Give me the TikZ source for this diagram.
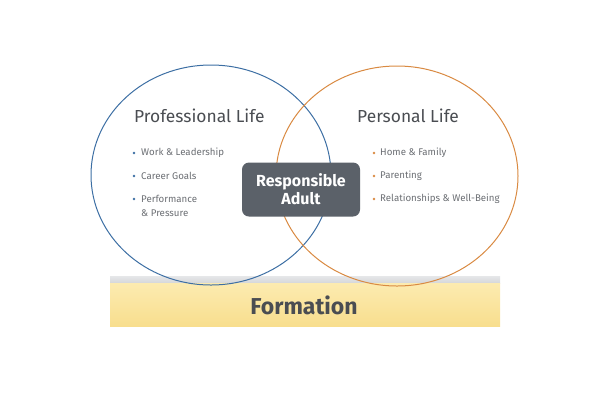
\documentclass[tikz,border=0pt]{standalone}
\usepackage{fontspec}
\setmainfont{Fira Sans}
\definecolor{problue}{HTML}{3C6EA3}
\definecolor{perorange}{HTML}{D98A42}
\definecolor{boxgrey}{HTML}{5B6169}
\definecolor{txtgrey}{HTML}{4A4D52}
\definecolor{itemgrey}{HTML}{6B6E73}
\definecolor{barY1}{HTML}{FCEBB0}
\definecolor{barY2}{HTML}{F8DE8E}
\definecolor{barTop}{HTML}{D5D7DA}
\tikzset{
  lifecircle/.style={draw, line width=1pt},
  title/.style={font=\fontsize{17.4}{19}\selectfont, text=txtgrey, anchor=west, inner sep=0pt},
  item/.style={font=\fontsize{9.7}{12}\selectfont, text=itemgrey, anchor=west, inner sep=0pt, align=left},
  dot/.style={circle, inner sep=0pt, minimum size=2.6pt},
}
\begin{document}
\begin{tikzpicture}[x=1pt,y=-1pt]
\useasboundingbox (0,0) rectangle (612,408);
% Formation bar
\shade[top color=barTop!60, bottom color=barTop] (110,276) rectangle (500,283);
\shade[top color=barY1, bottom color=barY2] (110,283) rectangle (500,326);
\node[font=\bfseries\fontsize{23}{26}\selectfont, text=txtgrey] (formation) at (304,305) {Formation};
% circles
\draw[lifecircle, problue] (211,175) ellipse [x radius=120, y radius=110];
\draw[lifecircle, perorange] (397,176) ellipse [x radius=121, y radius=110];
% titles
\node[title] (prof) at (134,116) {Professional Life};
\node[title] (pers) at (357,116) {Personal Life};
% left items
\node[dot, fill=problue] (b1) at (134,153) {};
\node[item] (i1) at (141,153) {Work \& Leadership};
\node[dot, fill=problue] (b2) at (134,176) {};
\node[item] (i2) at (141,176) {Career Goals};
\node[dot, fill=problue] (b3) at (134,199) {};
\node[item] (i3) at (141,199) {Performance};
\node[item] (i3b) at (141,213) {\& Pressure};
% right items
\node[dot, fill=perorange] (c1) at (374,153) {};
\node[item] (j1) at (380,153) {Home \& Family};
\node[dot, fill=perorange] (c2) at (374,176) {};
\node[item] (j2) at (380,176) {Parenting};
\node[dot, fill=perorange] (c3) at (374,199) {};
\node[item] (j3) at (380,199) {Relationships \& Well-Being};
% center box
\node[fill=boxgrey, rounded corners=7pt, minimum width=118pt, minimum height=54pt, text=white,
  font=\bfseries\fontsize{16}{18}\selectfont, align=center] (adult) at (301,189.5) {Responsible\\Adult};
\end{tikzpicture}
\end{document}
